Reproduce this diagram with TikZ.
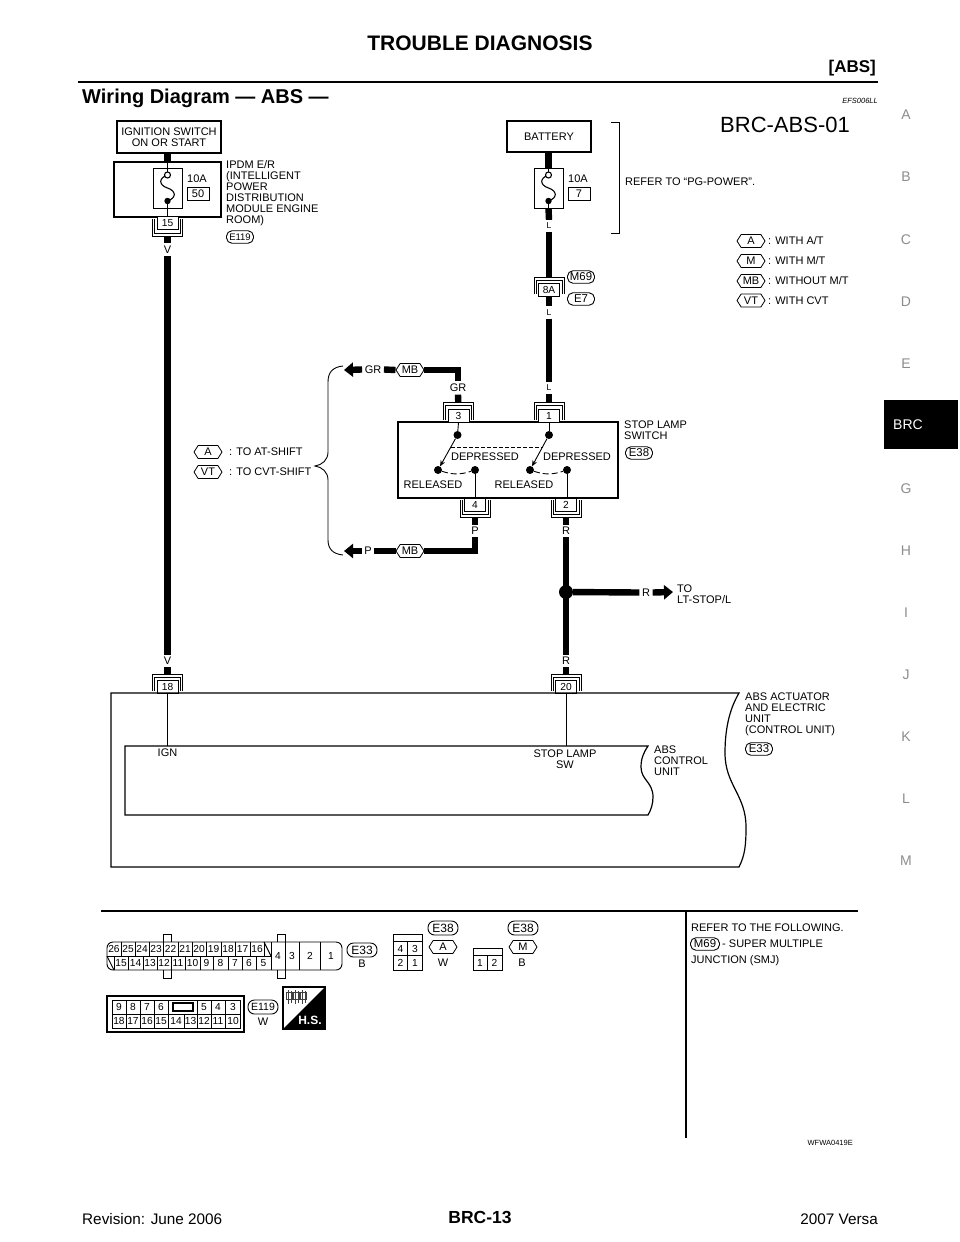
\documentclass[tikz,border=0pt]{standalone}
\usepackage{fontspec}
\setmainfont{Liberation Sans}
\usetikzlibrary{calc,shapes.symbols,arrows.meta}

\newcommand{\lblfont}{\fontsize{11}{11}\selectfont}
\newcommand{\numfont}{\fontsize{10.2}{10}\selectfont}

% double bracket round a terminal, opening towards its box
\newcommand{\bracketup}[1]{
	\draw[thinline] ($(#1.north)+(-15,11)$) -- ++(0,-17) -- ++(30,0) -- ++(0,17);
	\draw[thinline] ($(#1.north)+(-13,11)$) -- ++(0,-14) -- ++(26,0) -- ++(0,14);
}
\newcommand{\bracketdown}[1]{
	\draw[thinline] ($(#1.south)+(-15,-11)$) -- ++(0,17) -- ++(30,0) -- ++(0,-17);
	\draw[thinline] ($(#1.south)+(-13,-11)$) -- ++(0,14) -- ++(26,0) -- ++(0,-14);
}
% the fuse symbol inside its box
\newcommand{\fusesym}[1]{
	\begin{scope}[shift={(#1.center)}]
		\draw[line width=1.1pt] (0,-13) .. controls (-9,-10) and (-9,-3) .. (0,0) .. controls (9,3) and (9,10) .. (0,13);
		\fill (0,13) circle (3.2);
		\filldraw[line width=1.1pt,fill=white] (0,-13) circle (3);
	\end{scope}
}

\begin{document}
\begin{tikzpicture}[x=1pt,y=-1pt,
	wire/.style={line width=6.4pt},
	thinline/.style={line width=.9pt},
	lbl/.style={font=\lblfont,inner sep=1pt,align=left,anchor=west},
	clbl/.style={font=\lblfont,inner sep=1pt,align=center},
	wlbl/.style={font=\lblfont,inner sep=2.5pt},
	llbl/.style={font=\fontsize{8.5}{9}\selectfont,inner sep=3pt},
	block/.style={draw,line width=1.2pt},
	termbox/.style={draw,line width=.9pt,fill=white,minimum width=21pt,minimum height=13pt,inner sep=0pt,font=\numfont},
	fusebox/.style={draw,line width=.9pt,minimum width=29pt,minimum height=40pt,inner sep=0pt},
	ampbox/.style={draw,line width=.9pt,minimum width=22pt,minimum height=13pt,inner sep=0pt,font=\lblfont},
	hextag/.style={draw,line width=.8pt,fill=white,signal,signal to=west and east,signal pointer angle=115,minimum width=28pt,minimum height=13pt,inner sep=0pt,font=\lblfont},
	pilltag/.style={draw,line width=.9pt,fill=white,rectangle,rounded corners=5.5pt,minimum width=27pt,minimum height=12.5pt,inner sep=0pt,font=\fontsize{11.4}{11}\selectfont},
	bigpill/.style={pilltag,rounded corners=6.5pt,minimum width=30pt,minimum height=14pt,font=\fontsize{12}{12}\selectfont},
	bigarrow/.style={line width=6.4pt,-{Triangle[length=9pt,width=14pt]}},
	side/.style={font=\fontsize{14}{14}\selectfont,text=black!45,inner sep=0pt},
	dot/.style={circle,fill,inner sep=0pt,minimum size=8pt},
	cellno/.style={font=\numfont,inner sep=0pt}]
	\useasboundingbox (0,0) rectangle (960,1242);

	% page furniture
	\node[font=\bfseries\fontsize{21}{21}\selectfont] (title) at (480,43) {TROUBLE DIAGNOSIS};
	\node[font=\bfseries\fontsize{17}{17}\selectfont,anchor=east,inner sep=0pt] (sect) at (876,68) {[ABS]};
	\draw[line width=2.4pt] (78,82) -- (878,82);
	\node[font=\bfseries\fontsize{20}{20}\selectfont,anchor=west,inner sep=0pt] (head) at (82,98) {Wiring Diagram — ABS —};
	\node[font=\itshape\fontsize{7.5}{8}\selectfont,anchor=east,inner sep=0pt] (code) at (878,101) {EFS006LL};
	\node[font=\fontsize{22}{22}\selectfont] (sheet) at (785,125) {BRC-ABS-01};
	\foreach \ltr/\yy in {A/114.5,B/176.5,C/239.5,D/301.5,E/363.5,G/488.5,H/550.5,I/612.5,J/674.5,K/736.5,L/798.5,M/860.5}
		\node[side] (side\ltr) at (906,\yy) {\ltr};
	\node[fill=black,text=white,minimum width=74pt,minimum height=49pt,inner sep=0pt,font=\fontsize{14}{14}\selectfont] (sideBRC) at (921,424.5) {\hspace{-26pt}BRC};
	\node[font=\fontsize{15.3}{15}\selectfont,anchor=west,inner sep=0pt] (rev) at (82,1219) {Revision: June 2006};
	\node[font=\bfseries\fontsize{17.5}{18}\selectfont] (page) at (480,1217) {BRC-13};
	\node[font=\fontsize{15.3}{15}\selectfont,anchor=east,inner sep=0pt] (model) at (878,1219) {2007 Versa};

	% ignition feed
	\node[block,minimum width=104pt,minimum height=32pt,inner sep=0pt,clbl] (ign) at (169,137) {IGNITION SWITCH\\ON OR START};
	\node[block,minimum width=107pt,minimum height=55pt] (ipdm) at (167.5,189.5) {};
	\node[fusebox] (fuseA) at (167.5,188) {};
	\fusesym{fuseA}
	\node[clbl] (ampA) at (197,179) {10A};
	\node[ampbox] (boxA) at (198,194) {50};
	\node[termbox] (t15) at (167.5,223) {15};
	\bracketdown{t15}
	\node[lbl] (ipdmtxt) at (225,193.5) {IPDM E/R\\(INTELLIGENT\\POWER\\DISTRIBUTION\\MODULE ENGINE\\ROOM)};
	\node[pilltag,font=\fontsize{9.5}{10}\selectfont] (pE119) at (240,237) {E119};
	\node[wlbl] (v1) at (167.5,249.5) {V};
	\node[wlbl] (v2) at (167.5,661) {V};
	\draw[wire] (ign.south -| fuseA.center) -- (ipdm.north);
	\draw[thinline] (ipdm.north) -- ($(fuseA.center)+(0,-16)$);
	\draw[thinline] ($(fuseA.center)+(0,13)$) -- (t15.north);
	\draw[wire,shorten <=6pt] (t15.south) -- (v1.north);
	\draw[wire] (v1.south) -- (v2.north);

	% battery feed
	\node[block,minimum width=84pt,minimum height=31pt,inner sep=0pt,clbl] (batt) at (549,136.5) {BATTERY};
	\node[fusebox] (fuseB) at (548.5,188) {};
	\fusesym{fuseB}
	\node[clbl] (ampB) at (578,179) {10A};
	\node[ampbox] (boxB) at (579,194) {7};
	\node[llbl] (l1) at (549,226) {L};
	\node[termbox] (t8A) at (549,290) {8A};
	\bracketup{t8A}
	\node[pilltag] (pM69) at (581,277) {M69};
	\node[pilltag] (pE7) at (581,299) {E7};
	\node[llbl] (l2) at (549,312.5) {L};
	\node[llbl] (l3) at (549,388) {L};
	\draw[wire] (batt.south -| fuseB.center) -- (fuseB.north);
	\draw[thinline] (fuseB.north) -- ($(fuseB.center)+(0,-16)$);
	\draw[thinline] ($(fuseB.center)+(0,13)$) -- (fuseB.south);
	\draw[wire] (fuseB.south) -- (l1.north);
	\draw[wire,shorten >=6pt] (l1.south) -- (t8A.north);
	\draw[wire] (t8A.south) -- (l2.north);
	\draw[wire] (l2.south) -- (l3.north);
	\draw[thinline] (611,122) -- (619,122) -- (619,233.5) -- (611,233.5);
	\node[lbl] (reftxt) at (624,182) {REFER TO “PG-POWER”.};

	% legend
	\foreach \nm/\tg/\yy/\txt in {a/A/241/{WITH A/T},m/M/261/{WITH M/T},mb/MB/281/{WITHOUT M/T},vt/VT/300.5/{WITH CVT}}{
		\node[hextag] (leg\nm) at (751,\yy) {\tg};
		\node[lbl] (legtxt\nm) at (767,\yy) {: \txt};
	}

	% stop lamp switch
	\node[block,minimum width=220pt,minimum height=76pt] (sw) at (508,460) {};
	\node[termbox] (t3) at (458.5,415.5) {3};
	\node[termbox] (t1) at (549,415.5) {1};
	\node[termbox] (t4) at (475,504.5) {4};
	\node[termbox] (t2) at (566,504.5) {2};
	\bracketup{t3}
	\bracketup{t1}
	\bracketdown{t4}
	\bracketdown{t2}
	\node[lbl] (swtxt) at (623,430.5) {STOP LAMP\\SWITCH};
	\node[pilltag] (pE38) at (639,453) {E38};
	\node[dot] (swA) at (457.5,435) {};
	\node[dot] (swB) at (549,435) {};
	\node[dot] (relA) at (438,470) {};
	\node[dot] (depA) at (475,470) {};
	\node[dot] (relB) at (530,470) {};
	\node[dot] (depB) at (567,470) {};
	\draw[thinline] (t3.south) -- (swA);
	\draw[thinline] (t1.south) -- (swB);
	\draw[thinline,-{Stealth[length=6pt,width=5pt]}] (swA) -- (relA);
	\draw[thinline,-{Stealth[length=6pt,width=5pt]}] (swB) -- (relB);
	\draw[thinline] (depA) -- (depA |- t4.north);
	\draw[thinline] (depB) -- (depB |- t2.north);
	\draw[thinline,dash pattern=on 4pt off 2pt] (451,447) -- (543,447);
	\draw[thinline,dash pattern=on 6pt off 3pt] (relA) to[bend right=18] (depA);
	\draw[thinline,dash pattern=on 6pt off 3pt] (relB) to[bend right=18] (depB);
	\node[clbl] (depAtxt) at (485,457) {DEPRESSED};
	\node[clbl] (depBtxt) at (577,457) {DEPRESSED};
	\node[clbl] (relAtxt) at (433,485) {RELEASED};
	\node[clbl] (relBtxt) at (524,485) {RELEASED};

	% wires round the switch
	\node[wlbl] (gr1) at (458,388) {GR};
	\node[wlbl] (p1) at (475,531) {P};
	\node[wlbl] (r1) at (566,531) {R};
	\node[wlbl] (r2) at (566,661) {R};
	\node[wlbl] (gr2) at (373,369.5) {GR};
	\node[wlbl] (p2) at (368,551) {P};
	\node[hextag] (mb1) at (410,370) {MB};
	\node[hextag] (mb2) at (410,551) {MB};
	\coordinate (tipGR) at (344,370);
	\coordinate (tipP) at (344,551);
	\draw[wire,shorten >=6pt] (l3.south) -- (t1.north);
	\draw[wire,shorten >=6pt] (gr1.south) -- (t3.north);
	\draw[wire] (gr1.north) -- (gr1.north |- mb1) -- (mb1.east);
	\draw[wire] (mb1.west) -- (gr2.east);
	\draw[bigarrow] (gr2.west) -- (tipGR);
	\draw[wire,shorten <=6pt] (t4.south) -- (p1.north);
	\draw[wire] (p1.south) -- (p1.south |- mb2) -- (mb2.east);
	\draw[wire] (mb2.west) -- (p2.east);
	\draw[bigarrow] (p2.west) -- (tipP);

	% brace and its notes
	\draw[thinline] (343,366) .. controls (333,367) and (328,372) .. (328,382) -- (328,452) .. controls (328,460) and (322,465) .. (315,466) .. controls (322,467) and (328,472) .. (328,480) -- (328,540) .. controls (328,549) and (333,554) .. (343,555);
	\node[hextag] (notea) at (208,452) {A};
	\node[hextag] (notevt) at (208,472) {VT};
	\node[lbl] (noteatxt) at (228,452) {: TO AT-SHIFT};
	\node[lbl] (notevttxt) at (228,472) {: TO CVT-SHIFT};

	% stop lamp branch
	\node[dot,minimum size=14pt] (jct) at (566,592) {};
	\node[wlbl] (r3) at (646,592.5) {R};
	\coordinate (tipR) at (673,592);
	\node[lbl] (totxt) at (676,594) {TO\\LT-STOP/L};
	\draw[wire,shorten <=6pt] (t2.south) -- (r1.north);
	\draw[wire] (r1.south) -- (r2.north);
	\draw[wire] (jct) -- (r3.west);
	\draw[bigarrow] (r3.east) -- (tipR);

	% abs actuator
	\node[termbox] (t18) at (167.5,687) {18};
	\node[termbox] (t20) at (566,687) {20};
	\bracketup{t18}
	\bracketup{t20}
	\draw[wire,shorten >=6pt] (v2.south) -- (t18.north);
	\draw[wire,shorten >=6pt] (r2.south) -- (t20.north);
	\draw[block] (739,693) .. controls (729,710) and (725,730) .. (725,753) .. controls (725,785) and (746,795) .. (746,827) .. controls (746,845) and (745,855) .. (739,867) -- (111,867) -- (111,693) -- cycle;
	\draw[block] (648,746) .. controls (644,752) and (641,758) .. (641,767) .. controls (641,780) and (653,782) .. (653,797) .. controls (653,804) and (651,810) .. (648,815) -- (125,815) -- (125,746) -- cycle;
	\coordinate (ignpin) at (167.5,746);
	\coordinate (swpin) at (566,746);
	\draw[thinline] (t18.south) -- (ignpin);
	\draw[thinline] (t20.south) -- (swpin);
	\node[clbl] (igntxt) at (167.5,753) {IGN};
	\node[clbl] (swpintxt) at (565,759) {STOP LAMP\\SW};
	\node[lbl] (cutxt) at (653,761) {ABS\\CONTROL\\UNIT};
	\node[lbl] (abstxt) at (744,714.5) {ABS ACTUATOR\\AND ELECTRIC\\UNIT\\(CONTROL UNIT)};
	\node[pilltag] (pE33) at (759,749) {E33};

	% connector panel
	\draw[line width=1.8pt] (101,911) -- (858,911);
	\draw[line width=1.2pt] (686,911) -- (686,1138);
	\node[lbl] (folltxt) at (690,928) {REFER TO THE FOLLOWING.};
	\node[pilltag,minimum width=29pt] (pM69b) at (705,944) {M69};
	\node[lbl] (smtxt) at (721,944) {- SUPER MULTIPLE};
	\node[lbl] (smjtxt) at (690,961) {JUNCTION (SMJ)};
	\node[font=\fontsize{7.5}{8}\selectfont,anchor=east,inner sep=0pt] (drw) at (853,1143) {WFWA0419E};

	% E33 connector
	\draw[thinline,rounded corners=6pt] (107,942) rectangle (342,970);
	\draw[thinline] (107,956) -- (271,956);
	\foreach \xx in {121,135,149,163,178,192,206,221,235,250,264,271}
		\draw[thinline] (\xx,942) -- (\xx,956);
	\foreach \xx in {114,128,143,157,171,185,200,213,228,242,256,271}
		\draw[thinline] (\xx,956) -- (\xx,970);
	\foreach \xx in {285,299,320}
		\draw[thinline] (\xx,942) -- (\xx,970);
	\draw[thinline] (264,942) -- (271,956);
	\draw[thinline] (107,956) -- (114,970);
	\draw[thinline] (163,942) -- (163,934) -- (171,934) -- (171,942);
	\draw[thinline] (163,970) -- (163,978) -- (171,978) -- (171,970);
	\draw[thinline] (277,942) -- (277,934) -- (285,934) -- (285,942);
	\draw[thinline] (277,970) -- (277,978) -- (285,978) -- (285,970);
	\foreach \no/\xx in {26/114,25/128,24/142,23/156,22/170.5,21/185,20/199,19/213.5,18/228,17/242.5,16/257}
		\node[cellno] (ea\no) at (\xx,949) {\no};
	\foreach \no/\xx in {15/121,14/135.5,13/150,12/164,11/178,10/192.5,9/206.5,8/220.5,7/235,6/249,5/263.5}
		\node[cellno] (ea\no) at (\xx,963) {\no};
	\foreach \no/\xx in {4/278,3/292,2/310,1/331}
		\node[cellno] (eb\no) at (\xx,956) {\no};
	\node[bigpill] (pE33b) at (362,950) {E33};
	\node[clbl] (colB) at (362,964) {B};

	% E38 connectors
	\draw[thinline] (393,934) rectangle (422,970);
	\draw[thinline] (393,941) -- (422,941);
	\draw[thinline] (393,955.5) -- (422,955.5);
	\draw[thinline] (407.5,941) -- (407.5,970);
	\foreach \no/\xx/\yy in {4/400.5/948.5,3/415/948.5,2/400.5/963,1/415/963}
		\node[cellno] (ec\no) at (\xx,\yy) {\no};
	\node[bigpill] (pE38a) at (443,928) {E38};
	\node[hextag] (hA) at (443,947) {A};
	\node[clbl] (colW) at (443,963) {W};
	\draw[thinline] (473,948) rectangle (502,970);
	\draw[thinline] (473,955.5) -- (502,955.5);
	\draw[thinline] (487.5,955.5) -- (487.5,970);
	\foreach \no/\xx in {1/480,2/494.5}
		\node[cellno] (ed\no) at (\xx,963) {\no};
	\node[bigpill] (pE38b) at (523,928) {E38};
	\node[hextag] (hM) at (523,947) {M};
	\node[clbl] (colB2) at (522,963) {B};

	% E119 connector
	\draw[line width=1.1pt] (107,996) rectangle (244,1032);
	\draw[thinline] (112,1000) rectangle (240,1028);
	\draw[thinline] (112,1014) -- (240,1014);
	\foreach \xx in {126,140,154,168,197,211,225}
		\draw[thinline] (\xx,1000) -- (\xx,1014);
	\foreach \xx in {126,140,154,168,184,197,211,225}
		\draw[thinline] (\xx,1014) -- (\xx,1028);
	\draw[line width=1.1pt] (173,1003) rectangle (193,1011);
	\foreach \no/\xx in {9/119,8/133,7/147,6/161,5/204,4/218,3/233}
		\node[cellno] (ee\no) at (\xx,1007) {\no};
	\foreach \no/\xx in {18/119,17/133,16/147,15/161,14/176,13/190.5,12/204,11/218,10/233}
		\node[cellno] (ee\no) at (\xx,1021) {\no};
	\node[bigpill,font=\fontsize{10.5}{11}\selectfont] (pE119b) at (263,1007) {E119};
	\node[clbl] (colW2) at (263,1022) {W};

	% harness symbol
	\draw[line width=1.4pt] (283,987) rectangle (325,1029);
	\fill (325,987) -- (325,1029) -- (283,1029) -- cycle;
	\foreach \xx in {286,293,300}{
		\draw[line width=.8pt,black!75] (\xx,992) rectangle ++(6,7);
		\draw[line width=.8pt,black!75] (\xx+2,990) -- ++(0,14);
		\draw[line width=.8pt,black!75] (\xx+5,991) -- ++(0,12);
	}
	\node[font=\bfseries\fontsize{12}{12}\selectfont,text=white,inner sep=0pt] (hs) at (310,1020.5) {H.S.};
\end{tikzpicture}
\end{document}
